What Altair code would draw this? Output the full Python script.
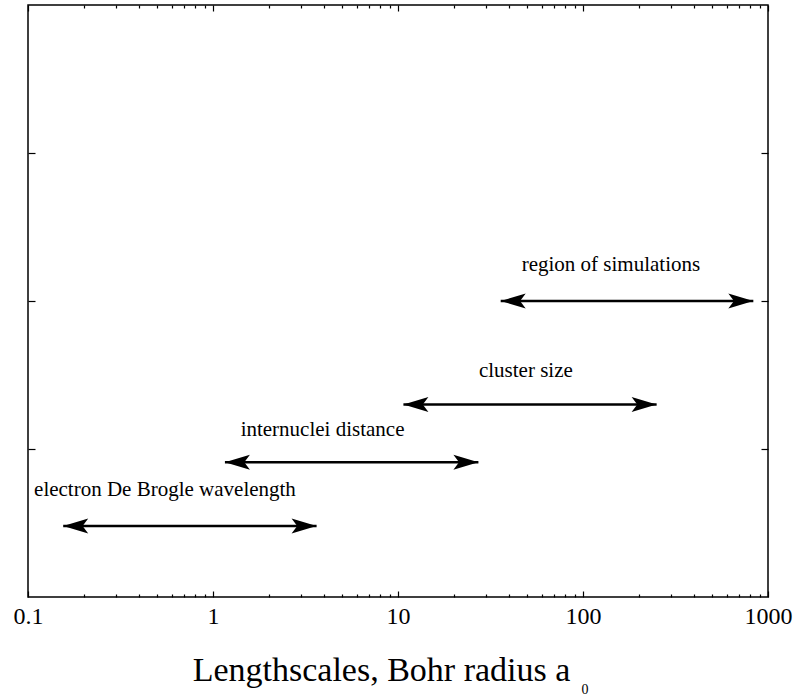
import altair as alt
import pandas as pd

# Characteristic length ranges (in Bohr radii) shown as double-headed arrows
labels = [
    "electron De Brogle wavelength",
    "internuclei distance",
    "cluster size",
    "region of simulations",
]
x_start = [0.155, 1.16, 10.7, 35.9]
x_end = [3.63, 27.2, 250, 833]
y_level = [0.48, 0.91, 1.30, 2.0]
label_x = [0.55, 3.91, 49.1, 141.6]
label_y = [0.72, 1.13, 1.53, 2.24]

decades = [0.1, 1, 10, 100, 1000]
minor_steps = [2, 3, 4, 5, 6, 7, 8, 9]
y_ticks = [1, 2, 3]

x_ticks = list(decades)
for d in decades[:-1]:
    x_ticks += [d * m for m in minor_steps]

df = pd.DataFrame({
    "label": labels,
    "start": x_start,
    "end": x_end,
    "level": y_level,
    "label_x": label_x,
    "label_y": label_y,
})

FONT = "Liberation Serif, Times New Roman, Times, DejaVu Serif, serif"
# barbed arrowhead with its tip at the symbol origin, pointing left
ARROWHEAD = "M0,0 L2,-0.6 L1.55,0 L2,0.6 Z"

x_scale = alt.Scale(type="log", domain=[0.1, 1000], nice=False)
y_scale = alt.Scale(domain=[0, 4], nice=False)

major_test = "indexof([0.1, 1, 10, 100, 1000], datum.value) >= 0"
x_tick_size = {"condition": {"test": major_test, "value": -6}, "value": -3}

common = dict(domain=False, grid=False, tickColor="black", tickWidth=1.2)

x_bottom = alt.Axis(
    orient="bottom",
    values=x_ticks,
    tickSize=x_tick_size,
    labelExpr=f"{major_test} ? datum.value + '' : ''",
    labelFont=FONT,
    labelFontSize=24,
    labelColor="black",
    labelPadding=13,
    labelOverlap=False,
    labelFlush=False,
    title="Lengthscales, Bohr radius a",
    titleFont=FONT,
    titleFontSize=34,
    titleFontWeight="normal",
    titleColor="black",
    titleAlign="center",
    titleBaseline="alphabetic",
    titleX=353,
    titleY=83,
    **common,
)
x_top = alt.Axis(orient="top", values=x_ticks, tickSize=x_tick_size,
                 labels=False, title=None, **common)
y_left = alt.Axis(orient="left", values=y_ticks, tickSize={"expr": "-7"},
                  labels=False, title=None, **common)
y_right = alt.Axis(orient="right", values=y_ticks, tickSize={"expr": "-7"},
                   labels=False, title=None, **common)

base = alt.Chart(df)

shafts = base.mark_rule(color="black", strokeWidth=2.5).encode(
    x=alt.X("start:Q", scale=x_scale, axis=x_bottom),
    x2="end:Q",
    y=alt.Y("level:Q", scale=y_scale, axis=y_left),
)

head_left = base.mark_point(
    shape=ARROWHEAD, size=625, filled=True, color="black", opacity=1, strokeWidth=0
).encode(
    x=alt.X("start:Q", scale=x_scale, axis=None),
    y=alt.Y("level:Q", scale=y_scale, axis=None),
)

head_right = base.mark_point(
    shape=ARROWHEAD, size=625, filled=True, color="black", opacity=1,
    strokeWidth=0, angle=180
).encode(
    x=alt.X("end:Q", scale=x_scale, axis=None),
    y=alt.Y("level:Q", scale=y_scale, axis=None),
)

captions = base.mark_text(
    font=FONT, fontSize=21, color="black", baseline="middle", align="center"
).encode(
    x=alt.X("label_x:Q", scale=x_scale, axis=x_top),
    y=alt.Y("label_y:Q", scale=y_scale, axis=y_right),
    text="label:N",
)

# subscript "0" of a_0 in the axis title
subscript = alt.Chart(pd.DataFrame({"t": ["0"]})).mark_text(
    font=FONT, fontSize=14, color="black", align="center", baseline="alphabetic"
).encode(x=alt.value(557), y=alt.value(689), text="t:N")

chart = (
    alt.layer(shafts, head_left, head_right, captions, subscript)
    .resolve_axis(x="independent", y="independent")
    .properties(
        width=740,
        height=592,
        autosize=alt.AutoSizeParams(type="none"),
        padding={"left": 28, "top": 5, "right": 29, "bottom": 101},
        background="white",
    )
    .configure_view(stroke="black", strokeWidth=1.5)
)

chart.save("out.html", embed_options={"renderer": "svg", "actions": False})
